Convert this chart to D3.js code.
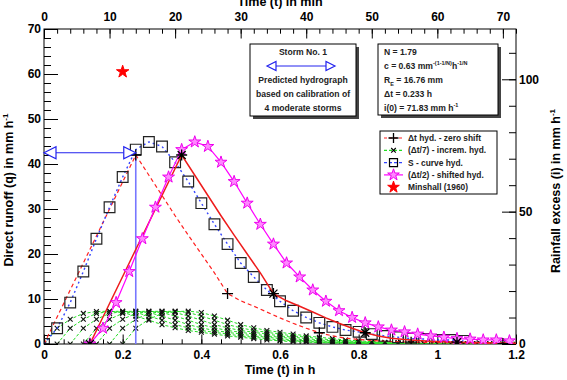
<!DOCTYPE html>
<html><head><meta charset="utf-8">
<script src="https://cdn.jsdelivr.net/npm/d3@7"></script>
<style>
body{margin:0;background:#fff}
text{font-family:"Liberation Sans",Arial,Helvetica,sans-serif;font-weight:bold}
</style>
</head><body>
<svg id="c" width="567" height="380"></svg>
<script>
// ---------------- data ----------------
// time grid in minutes (step = Δt/7 = 2 min)
const gridMin = [0,2,4,6,8,10,12,14,16,18,20,22,24,26,28,30,32,34,36,38,40,42,44,46,48,50,52,54,56,58,60,62,64,66,68,70,72,74,76,78,80];
// Δt hydrograph (zero shift), sampled every 2 min
const dtHydQ = [0,6,12,18,24,30,36,42,37.5,33,28.5,24.2,20,15.8,11.2,9.6,8.4,7.1,5.8,4.6,3.5,2.5,1.8,1.3,1.0,0.8,0.6,0.5,0.4,0.35,0.3,0.25,0.2,0.15,0.12,0.1];
const dtHydMarkerIdx = [0,7,14,21,28,35];
// Δt/7 incremental hydrograph (same shape, 7 shifted copies)
const incremQ = [0,3.5,5.5,6.8,7.2,7.3,7.0,6.2,5.3,4.3,3.6,3.0,2.6,2.2,1.8,1.5,1.2,0.9,0.7,0.5,0.4,0.3,0.22,0.16,0.12,0.09,0.06,0.04,0.03,0.02,0.01];
const incremShiftMin = [0,2,4,6,8,10,12];
// S-curve hydrograph
const sCurveQ = [0,3.5,9.2,16.1,23.4,30.4,37.1,43.2,44.9,43.9,40.4,36.1,31.3,26.6,22.2,18.0,14.9,12.0,9.5,7.4,5.9,4.7,3.8,3.1,2.7,2.2,1.8,1.5,1.2,1.1,0.9,0.9,0.7];
// (Δt/2) shifted hydrograph (shift = 7 min)
const shiftedQ = [0,3.5,9.2,16.1,23.4,30.4,37.1,43.2,44.9,43.9,40.4,36.1,31.3,26.6,22.2,18.0,14.9,12.0,9.5,7.4,5.9,4.7,3.8,3.1,2.7,2.2,1.8,1.5,1.2,1.1,0.9,0.9,0.7];
const halfShiftMin = 7;
// Minshall (1960)
const minshallT = [0.2];
const minshallQ = [60.5];
// annotation arrow (Δt)
const arrowQ = 42.5;
const arrowT = [0, 0.2333];

// ticks
const hourTicks = [0,0.2,0.4,0.6,0.8,1,1.2];
const minuteTicks = [0,10,20,30,40,50,60,70];
const qTicks = [0,10,20,30,40,50,60,70];
const rainTicks = [0,50,100];

// ---------------- layout ----------------
const L=44, R=516, T=29, B=344;
const svg = d3.select("#c");
const x = d3.scaleLinear([0,1.2],[L,R]);
const xMin = d3.scaleLinear([0,72],[L,R]);
const y = d3.scaleLinear([0,70],[B,T]);
const yR = d3.scaleLinear([0,119],[B,T]);
const m2h = m => m/60;

svg.append("defs").append("clipPath").attr("id","clip")
  .append("rect").attr("x",L).attr("y",T).attr("width",R-L).attr("height",B-T);

// ---------------- axes ----------------
function axis(gen, tr, major, minor, majLen, minLen, pad, fmt){
  const g1 = svg.append("g").attr("transform",tr)
    .call(gen.tickValues(minor).tickSize(-minLen).tickFormat(""));
  g1.select(".domain").remove();
  g1.selectAll("line").attr("stroke","#000");
  const g2 = svg.append("g").attr("transform",tr);
  g2.call(gen.tickValues(major).tickSize(-majLen).tickPadding(pad).tickFormat(fmt));
  g2.select(".domain").remove();
  g2.selectAll("line").attr("stroke","#000");
  g2.selectAll("text").attr("font-size",12).attr("fill","#000")
    .style("font-family","'Liberation Sans',Arial,sans-serif").style("font-weight","bold");
  return g2;
}
const fmt = d3.format("");
axis(d3.axisBottom(x), `translate(0,${B})`, hourTicks, d3.range(0,1.2001,0.05), 9.5, 4.7, 6, fmt);
axis(d3.axisTop(xMin), `translate(0,${T})`, minuteTicks, d3.range(0,72.01,2), 9.5, 4.7, 8, fmt);
axis(d3.axisLeft(y), `translate(${L},0)`, qTicks, d3.range(0,70.01,2), 14, 7, 3, fmt);
axis(d3.axisRight(yR), `translate(${R},0)`, rainTicks, d3.range(0,119,10), 14, 7, 3, fmt);

svg.append("rect").attr("x",L).attr("y",T).attr("width",R-L).attr("height",B-T)
  .attr("fill","none").attr("stroke","#000").attr("stroke-width",1);

// axis titles
svg.append("text").attr("x",(L+R)/2).attr("y",6).attr("text-anchor","middle").attr("font-size",12.5).text("Time (t) in min");
svg.append("text").attr("x",(L+R)/2).attr("y",374).attr("text-anchor","middle").attr("font-size",12.5).text("Time (t) in h");
const lt = svg.append("text").attr("transform","translate(13,190) rotate(-90)").attr("text-anchor","middle").attr("font-size",12.5);
lt.append("tspan").text("Direct runoff (q) in mm h");
lt.append("tspan").attr("dy",-5).attr("font-size",8).text("-1");
const rt = svg.append("text").attr("transform","translate(560,191) rotate(-90)").attr("text-anchor","middle").attr("font-size",12.5);
rt.append("tspan").text("Rainfall excess (i) in mm h");
rt.append("tspan").attr("dy",-5).attr("font-size",8).text("-1");

// ---------------- marks ----------------
const plot = svg.append("g").attr("clip-path","url(#clip)");
const line = d3.line().x(d=>x(d[0])).y(d=>y(d[1]));

function plusPath(s){return `M${-s},0H${s}M0,${-s}V${s}`;}
function crossPath(s){return `M${-s},${-s}L${s},${s}M${-s},${s}L${s},${-s}`;}
const starSym = d3.symbol().type(d3.symbolStar);
const squareSym = d3.symbol().type(d3.symbolSquare);

// incremental hydrographs (green dashed, black x)
incremShiftMin.forEach(sh=>{
  const pts = incremQ.map((q,i)=>[m2h(gridMin[i]+sh), q]);
  plot.append("path").attr("d",line(pts)).attr("fill","none")
    .attr("stroke","#22dd22").attr("stroke-width",1).attr("stroke-dasharray","3,2");
  plot.selectAll(null).data(pts).join("path")
    .attr("transform",d=>`translate(${x(d[0])},${y(d[1])})`)
    .attr("d",crossPath(2.4)).attr("stroke","#111").attr("stroke-width",1.1);
});

// vertical blue line for Δt
plot.append("line").attr("x1",x(arrowT[1])).attr("x2",x(arrowT[1]))
  .attr("y1",y(arrowQ)).attr("y2",y(0)).attr("stroke","#7777ff").attr("stroke-width",1.6);

// Δt hyd zero shift (red dashed + black plus)
const dtPts = dtHydQ.map((q,i)=>[m2h(gridMin[i]), q]);
plot.append("path").attr("d",line(dtPts)).attr("fill","none")
  .attr("stroke","#ff2020").attr("stroke-width",1.2).attr("stroke-dasharray","4,3");

// S-curve (blue dotted + squares)
const sPts = sCurveQ.map((q,i)=>[m2h(gridMin[i]), q]);
plot.append("path").attr("d",line(sPts)).attr("fill","none")
  .attr("stroke","#3344ff").attr("stroke-width",1.4).attr("stroke-dasharray","2,3");
plot.selectAll(null).data(sPts).join("path")
  .attr("transform",d=>`translate(${x(d[0])},${y(d[1])})`)
  .attr("d",squareSym.size(115)()).attr("fill","none").attr("stroke","#222").attr("stroke-width",1.2);

// Δt hyd shifted by Δt/2 (red solid + black asterisks)
const dtShiftPts = dtHydQ.map((q,i)=>[m2h(gridMin[i]+halfShiftMin), q]);
plot.append("path").attr("d",line(dtShiftPts)).attr("fill","none")
  .attr("stroke","#ee1c1c").attr("stroke-width",1.5);

// shifted hyd (magenta stars)
const shPts = shiftedQ.map((q,i)=>[m2h(gridMin[i]+halfShiftMin), q]);
plot.append("path").attr("d",line(shPts)).attr("fill","none")
  .attr("stroke","#ff00ff").attr("stroke-width",1.2);
plot.selectAll(null).data(shPts).join("path")
  .attr("transform",d=>`translate(${x(d[0])},${y(d[1])})`)
  .attr("d",starSym.size(44)()).attr("fill","#ff88ff").attr("stroke","#ee00ee").attr("stroke-width",1);

// markers on Δt hyd
const dtMarks = dtHydMarkerIdx.map(i=>dtPts[i]);
plot.selectAll(null).data(dtMarks).join("path")
  .attr("transform",d=>`translate(${x(d[0])},${y(d[1])})`)
  .attr("d",plusPath(5.5)).attr("stroke","#000").attr("stroke-width",1.3);
const dtShiftMarks = dtHydMarkerIdx.map(i=>dtShiftPts[i]);
plot.selectAll(null).data(dtShiftMarks).join("path")
  .attr("transform",d=>`translate(${x(d[0])},${y(d[1])})`)
  .attr("d",plusPath(5.5)+crossPath(4)).attr("stroke","#000").attr("stroke-width",1.3);

// Minshall star
plot.selectAll(null).data(minshallT.map((t,i)=>[t,minshallQ[i]])).join("path")
  .attr("transform",d=>`translate(${x(d[0])},${y(d[1])})`)
  .attr("d",starSym.size(48)()).attr("fill","#ff0000").attr("stroke","#ff0000");

// Δt arrow
function arrowHead(g, tipX, yy, dir, len, h){
  g.append("path").attr("d",`M${tipX},${yy}L${tipX-dir*len},${yy-h}L${tipX-dir*len},${yy+h}Z`)
   .attr("fill","#fff").attr("stroke","#2222ee").attr("stroke-width",1.2);
}
svg.append("line").attr("x1",x(arrowT[0])+12).attr("x2",x(arrowT[1])-12)
  .attr("y1",y(arrowQ)).attr("y2",y(arrowQ)).attr("stroke","#2222ee").attr("stroke-width",1);
arrowHead(svg, x(arrowT[0]), y(arrowQ), -1, 12, 6);
arrowHead(svg, x(arrowT[1]), y(arrowQ), 1, 12, 6);

// ---------------- text boxes ----------------
function box(x0,y0,w,h){
  svg.append("rect").attr("x",x0+3).attr("y",y0+3).attr("width",w).attr("height",h).attr("fill","#444");
  svg.append("rect").attr("x",x0).attr("y",y0).attr("width",w).attr("height",h)
    .attr("fill","#fff").attr("stroke","#000").attr("stroke-width",1);
}
const fs = 8.6;
box(250,44,106,72);
const cx1 = 303;
svg.append("text").attr("x",cx1).attr("y",55).attr("text-anchor","middle").attr("font-size",fs).attr("fill","#222").text("Storm No. 1");
svg.append("line").attr("x1",275).attr("x2",327).attr("y1",66).attr("y2",66).attr("stroke","#2222ee").attr("stroke-width",1);
arrowHead(svg, 267, 66, -1, 9, 4.5);
arrowHead(svg, 335, 66, 1, 9, 4.5);
svg.append("text").attr("x",cx1).attr("y",83).attr("text-anchor","middle").attr("font-size",fs).attr("fill","#222").text("Predicted hydrograph");
svg.append("text").attr("x",cx1).attr("y",97).attr("text-anchor","middle").attr("font-size",fs).attr("fill","#222").text("based on calibration of");
svg.append("text").attr("x",cx1).attr("y",111).attr("text-anchor","middle").attr("font-size",fs).attr("fill","#222").text("4 moderate storms");

box(378,44,120,71);
const tx = 384;
svg.append("text").attr("x",tx).attr("y",55).attr("font-size",fs).attr("fill","#222").text("N = 1.79");
const c2 = svg.append("text").attr("x",tx).attr("y",69).attr("font-size",fs).attr("fill","#222");
c2.append("tspan").text("c = 0.63 mm");
c2.append("tspan").attr("dy",-4).attr("font-size",5.5).text("-(1-1/N)");
c2.append("tspan").attr("dy",4).text("h");
c2.append("tspan").attr("dy",-4).attr("font-size",5.5).text("-1/N");
const c3 = svg.append("text").attr("x",tx).attr("y",83).attr("font-size",fs).attr("fill","#222");
c3.append("tspan").text("R");
c3.append("tspan").attr("dy",2.5).attr("font-size",5.5).text("E");
c3.append("tspan").attr("dy",-2.5).text(" = 16.76 mm");
svg.append("text").attr("x",tx).attr("y",97).attr("font-size",fs).attr("fill","#222").text("\u0394t = 0.233 h");
const c5 = svg.append("text").attr("x",tx).attr("y",111).attr("font-size",fs).attr("fill","#222");
c5.append("tspan").text("i(0) = 71.83 mm h");
c5.append("tspan").attr("dy",-4).attr("font-size",5.5).text("-1");

// ---------------- legend ----------------
svg.append("rect").attr("x",380).attr("y",131).attr("width",117).attr("height",63)
  .attr("fill","#fff").attr("stroke","#000").attr("stroke-width",1);
const legendItems = [
  {label:"\u0394t hyd. - zero shift", stroke:"#ff2020", dash:"3,2", mark:"plus"},
  {label:"(\u0394t/7) - increm. hyd.", stroke:"#22dd22", dash:"3,2", mark:"cross"},
  {label:"S - curve hyd.", stroke:"#3344ff", dash:"3,2", mark:"square"},
  {label:"(\u0394t/2) - shifted hyd.", stroke:"#ff00ff", dash:null, mark:"star"},
  {label:"Minshall (1960)", stroke:null, dash:null, mark:"redstar"}
];
const lg = svg.append("g");
legendItems.forEach((it,i)=>{
  const yy = 138 + i*12.3;
  if(it.stroke){
    lg.append("line").attr("x1",384).attr("x2",403).attr("y1",yy).attr("y2",yy)
      .attr("stroke",it.stroke).attr("stroke-width",1.2).attr("stroke-dasharray",it.dash);
  }
  const m = lg.append("path").attr("transform",`translate(393.5,${yy})`);
  if(it.mark==="plus") m.attr("d",plusPath(5)).attr("stroke","#000").attr("stroke-width",1.3);
  if(it.mark==="cross") m.attr("d",crossPath(2.3)).attr("stroke","#000").attr("stroke-width",1.1);
  if(it.mark==="square") m.attr("d",squareSym.size(64)()).attr("fill","none").attr("stroke","#000").attr("stroke-width",1.2);
  if(it.mark==="star") m.attr("d",starSym.size(42)()).attr("fill","#ff88ff").attr("stroke","#ee00ee");
  if(it.mark==="redstar") m.attr("d",starSym.size(42)()).attr("fill","#ff0000").attr("stroke","#ff0000");
  lg.append("text").attr("x",408).attr("y",yy+3).attr("font-size",8.4).attr("fill","#222").text(it.label);
});
</script>
</body></html>
